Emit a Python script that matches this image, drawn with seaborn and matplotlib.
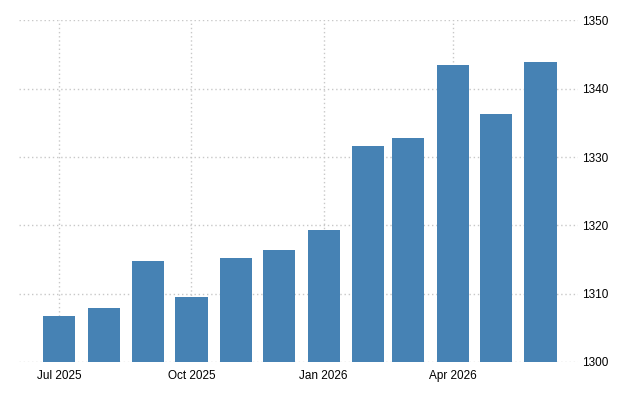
import matplotlib
matplotlib.use('Agg')
import matplotlib.pyplot as plt
import matplotlib.dates as mdates
import seaborn as sns
import pandas as pd

# monthly values, Jul 2025 .. Jun 2026
months = ['2025-07-01', '2025-08-01', '2025-09-01', '2025-10-01', '2025-11-01', '2025-12-01',
          '2026-01-01', '2026-02-01', '2026-03-01', '2026-04-01', '2026-05-01', '2026-06-01']
values = [1306.7, 1307.9, 1314.8, 1309.5, 1315.2, 1316.4,
          1319.3, 1331.6, 1332.8, 1343.5, 1336.3, 1343.9]

tick_dates = ['2025-07-01', '2025-10-01', '2026-01-01', '2026-04-01']
tick_labels = ['Jul 2025', 'Oct 2025', 'Jan 2026', 'Apr 2026']
y_ticks = [1300, 1310, 1320, 1330, 1340, 1350]


def main():
    sns.set_style('white')
    plt.rcParams['font.family'] = ['Liberation Sans', 'DejaVu Sans']

    df = pd.DataFrame({'date': mdates.date2num(pd.to_datetime(months)), 'value': values})

    fig = plt.figure(figsize=(6.4, 4), dpi=100)
    ax = fig.add_axes([0.0297, 0.095, 0.8733, 0.854])

    sns.barplot(data=df, x='date', y='value', native_scale=True, color='#4682b4',
                saturation=1, width=0.8, linewidth=0, ax=ax, zorder=2)

    ax.set_ylim(1300, 1350)
    ax.set_xlim(mdates.date2num(pd.Timestamp('2025-06-03')),
                mdates.date2num(pd.Timestamp('2026-06-27')))

    ax.set_xticks(mdates.date2num(pd.to_datetime(tick_dates)))
    ax.set_xticklabels(tick_labels)
    ax.set_yticks(y_ticks)
    ax.yaxis.tick_right()

    ax.grid(True, linestyle=(0, (1, 2)), color='#c8c8c8', linewidth=1, zorder=0)
    ax.set_axisbelow(True)
    for s in ax.spines.values():
        s.set_visible(False)

    ax.tick_params(axis='x', length=4, color='#c8c8c8', labelsize=8.5, pad=2, labelcolor='#000000')
    ax.tick_params(axis='y', length=0, labelsize=8.5, pad=3, labelcolor='#000000')
    ax.set_xlabel('')
    ax.set_ylabel('')

    plt.savefig('out.png', dpi=100)


if __name__ == '__main__':
    main()
